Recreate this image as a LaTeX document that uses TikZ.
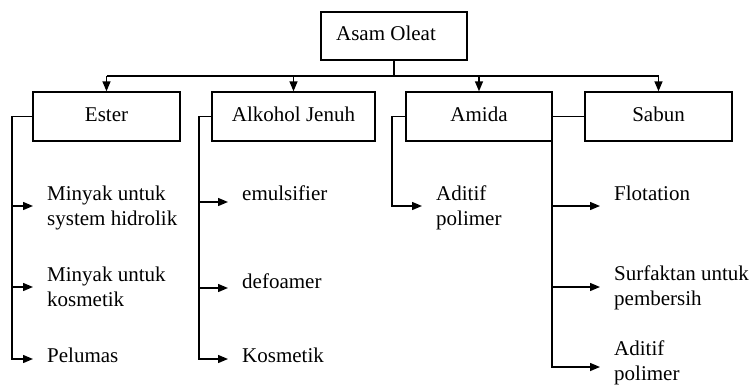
\documentclass[tikz,border=0pt]{standalone}
\usepackage{fontspec}
\setmainfont{Liberation Serif}
\usetikzlibrary{arrows.meta}
\begin{document}
\begin{tikzpicture}[x=1pt,y=-1pt,
  txt/.style={font=\fontsize{21pt}{25pt}\selectfont},
  box/.style={txt,draw,line width=1.4pt,inner sep=0pt,text height=15pt,text depth=5pt},
  item/.style={txt,anchor=north west,inner xsep=14pt,inner ysep=0pt,align=left},
  wire/.style={line width=1.4pt},
  arr/.style={wire,-{Triangle[length=10pt,width=8pt]}}]
\useasboundingbox (0,0) rectangle (752,389);
% boxes
\node[box,minimum width=146pt,minimum height=48pt,text depth=7pt] (root) at (394,36) {Asam Oleat\hspace*{16pt}};
\node[box,minimum width=147pt,minimum height=49pt] (ester) at (106.5,116.5) {Ester};
\node[box,minimum width=163pt,minimum height=49pt] (alk) at (293.5,116.5) {Alkohol Jenuh};
\node[box,minimum width=146pt,minimum height=49pt] (amida) at (479,116.5) {Amida};
\node[box,minimum width=147pt,minimum height=49pt] (sabun) at (658.5,116.5) {Sabun};
% top connectors
\coordinate (bus) at (394,76);
\draw[wire] (root.south) -- (bus);
\draw[wire] (ester.north |- bus) -- (sabun.north |- bus);
\foreach \n in {ester,alk,amida,sabun} \draw[arr] (\n.north |- bus) -- (\n.north);
% items
\node[item] (e1) at (33,185.5) {Minyak untuk\\system hidrolik};
\node[item] (e2) at (33,266.5) {Minyak untuk\\kosmetik};
\node[item] (e3) at (33,347.5) {Pelumas};
\node[item] (a1) at (228,185.5) {emulsifier};
\node[item] (a2) at (228,273.5) {defoamer};
\node[item] (a3) at (228,347.5) {Kosmetik};
\node[item] (m1) at (422,185.5) {Aditif\\polimer};
\node[item] (s1) at (600,185.5) {Flotation};
\node[item] (s2) at (600,265.5) {Surfaktan untuk\\pembersih};
\node[item] (s3) at (600,340.5) {Aditif\\polimer};
% spines
\coordinate (eS) at (12,359);
\coordinate (aS) at (199,359);
\coordinate (mS) at (392,206);
\coordinate (sS) at (552,367);
\draw[arr] (ester.west) -| (eS) -- (e3.west |- eS);
\draw[arr] (eS |- 0,206) -- (e1.west |- 0,206);
\draw[arr] (eS |- 0,287) -- (e2.west |- 0,287);
\draw[arr] (alk.west) -| (aS) -- (a3.west |- aS);
\draw[arr] (aS |- 0,202) -- (a1.west |- 0,202);
\draw[arr] (aS |- 0,288) -- (a2.west |- 0,288);
\draw[arr] (amida.west) -| (mS) -- (m1.west |- mS);
\draw[arr] (sabun.west) -| (sS) -- (s3.west |- sS);
\draw[arr] (sS |- 0,206) -- (s1.west |- 0,206);
\draw[arr] (sS |- 0,287) -- (s2.west |- 0,287);
\end{tikzpicture}
\end{document}
